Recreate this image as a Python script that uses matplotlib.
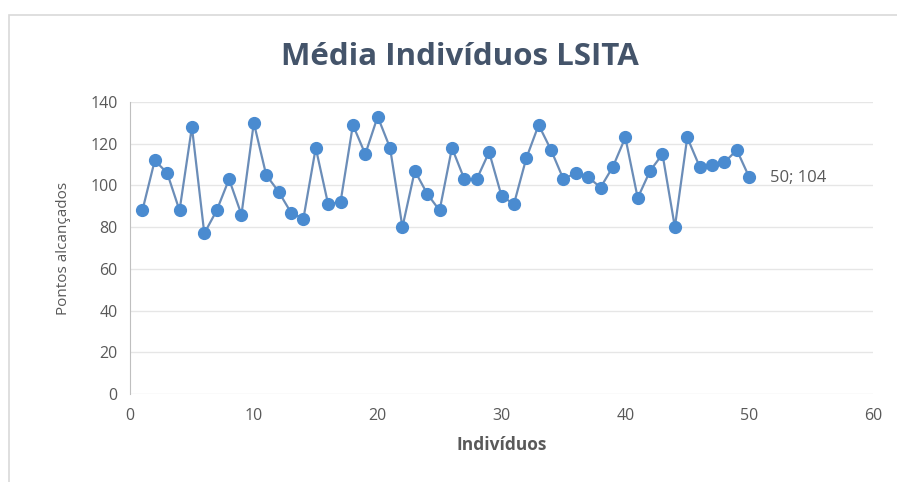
import matplotlib
matplotlib.use("Agg")
import matplotlib.pyplot as plt
from matplotlib.patches import Rectangle

individuos = list(range(1, 51))
pontos = [88, 112, 106, 88, 128, 77, 88, 103, 86, 130,
          105, 97, 87, 84, 118, 91, 92, 129, 115, 133,
          118, 80, 107, 96, 88, 118, 103, 103, 116, 95,
          91, 113, 129, 117, 103, 106, 104, 99, 109, 123,
          94, 107, 115, 80, 123, 109, 110, 111, 117, 104]
x_ticks = [0, 10, 20, 30, 40, 50, 60]
y_ticks = [0, 20, 40, 60, 80, 100, 120, 140]
title = "Média Indivíduos LSITA"
xlabel = "Indivíduos"
ylabel = "Pontos alcançados"

plt.rcParams['font.family'] = ['Open Sans', 'DejaVu Sans']

W, H = 897, 482
fig = plt.figure(figsize=(W / 100, H / 100), dpi=100)
fig.patch.set_facecolor("white")

# chart border (top & left visible)
fig.patches.append(Rectangle((9 / W, -0.05), 1.0, (H - 15) / H + 0.05,
                             transform=fig.transFigure, fill=False,
                             edgecolor="#d9d9d9", linewidth=1.2))

ax = fig.add_axes([130 / W, 1 - 394 / H, (873 - 130) / W, (394 - 102) / H])
ax.set_xlim(0, 60)
ax.set_ylim(0, 140)
ax.set_xticks(x_ticks)
ax.set_yticks(y_ticks)
ax.grid(axis="y", color="#e6e6e6", linewidth=1)
ax.set_axisbelow(True)
for s in ["top", "right", "bottom"]:
    ax.spines[s].set_visible(False)
ax.spines["left"].set_color("#bfbfbf")
ax.tick_params(length=0, labelsize=11.5, colors="#595959", pad=9)
ax.tick_params(axis="x", pad=10)

ax.plot(individuos, pontos, color="#6b8db8", linewidth=1.6,
        marker="o", markersize=8.5, markerfacecolor="#4a8bd0",
        markeredgecolor="#4a8bd0", zorder=3)

ax.annotate(f"{individuos[-1]}; {pontos[-1]}", (individuos[-1], pontos[-1]),
            xytext=(15, -1), textcoords="offset points", va="center",
            fontsize=12, color="#595959")

fig.text(460 / W, 1 - 57 / H, title, ha="center", va="center",
         fontsize=22.5, fontweight="bold", color="#44546a")
ax.set_xlabel(xlabel, fontsize=12.5, fontweight="bold", color="#595959", labelpad=9)
ax.set_ylabel(ylabel, fontsize=11, color="#595959", labelpad=14)

fig.savefig("out.png", dpi=100, facecolor="white")
